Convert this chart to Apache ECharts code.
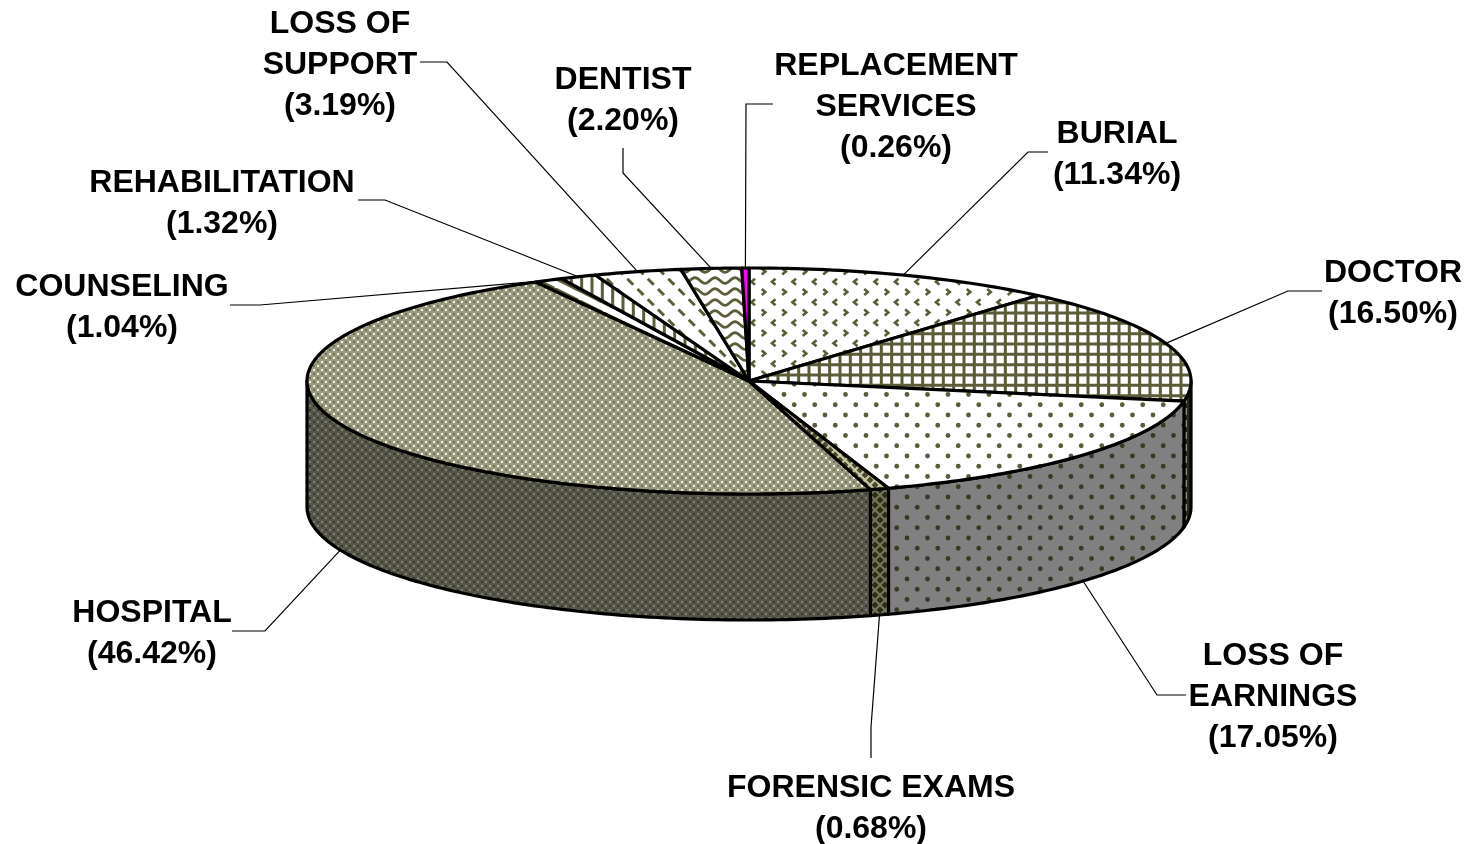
<!DOCTYPE html>
<html><head><meta charset="utf-8">
<style>html,body{margin:0;padding:0;background:#fff}#c{width:1470px;height:844px}</style>
<script src="https://cdn.jsdelivr.net/npm/echarts@6/dist/echarts.min.js"></script>
</head><body><div id="c"></div>
<script>
const categories = ['BURIAL','DOCTOR','LOSS OF\nEARNINGS','FORENSIC EXAMS','HOSPITAL','COUNSELING','REHABILITATION','LOSS OF\nSUPPORT','DENTIST','REPLACEMENT\nSERVICES'];
const shares = [11.34,16.50,17.05,0.68,46.42,1.04,1.32,3.19,2.20,0.26];
// label centre x, first-line y, and the leader's outer elbow + end (px)
const labelCx = [1117,1393,1273,871,152,122,222,340,623,896];
const labelY  = [134,273,656,788,613,287,183,24,80,66];
const leaderElbow = [[1028,152],[1288,291],[1157,695],[871,727],[265,631],[260,305],[385,200],[447,62],[623,173],[746,104]];
const leaderEnd   = [[1048,152],[1322,291],[1186,695],[871,758],[232,631],[230,305],[358,200],[420,62],[623,148],[773,104]];

const CX=749, CY=381, RX=442, RY=113, DEPTH=126;
const OL='#5c5c38';

function tile(w,h,bg,draw){const c=document.createElement('canvas');c.width=w;c.height=h;const g=c.getContext('2d');g.fillStyle=bg;g.fillRect(0,0,w,h);g.strokeStyle=OL;g.fillStyle=OL;draw(g);return {image:c,repeat:'repeat'};}
function lattice(g,fn){const p=20.5;for(let j=-1;j<5;j++)for(let i=-1;i<4;i++){fn(g,i*p+(j%2?p/2:0)+5,j*p/2+5,j%2);}}
const chev=tile(41,41,'#fff',g=>{g.lineWidth=2.6;lattice(g,(g,x,y,o)=>{const s=o?-1:1;g.beginPath();g.moveTo(x-1.8*s,y-3);g.lineTo(x+1.8*s,y);g.lineTo(x-1.8*s,y+3);g.stroke();});});
const grid=tile(31,31,'#fff',g=>{g.lineWidth=3;for(let k=0;k<3;k++){const p=k*31/3+3;g.beginPath();g.moveTo(p,0);g.lineTo(p,31);g.moveTo(0,p);g.lineTo(31,p);g.stroke();}});
const dots=(bg,col)=>tile(41,41,bg,g=>{g.fillStyle=col;lattice(g,(g,x,y)=>{g.beginPath();g.arc(x,y,2.4,0,7);g.fill();});});
const dotsTop=dots('#fff','#5c5c38'), dotsSide=dots('#808080','#3a3a24');
const hospTop=tile(8,8,'#9a9a80',g=>{g.fillStyle='#f2f2e6';g.fillRect(1,1,2,2);g.fillRect(5,5,2,2);g.fillStyle='#6f6f52';g.fillRect(5,1,2,2);g.fillRect(1,5,2,2);});
const hospSide=tile(8,8,'#55554a',g=>{g.fillStyle='#80806e';g.fillRect(1,1,2,2);g.fillRect(5,5,2,2);g.fillStyle='#38382c';g.fillRect(5,1,2,2);g.fillRect(1,5,2,2);});
const foren=(bg,col)=>tile(10,10,bg,g=>{g.fillStyle=col;[[0,0],[5,5],[10,0],[0,10],[10,10]].forEach(([x,y])=>{g.beginPath();g.moveTo(x-3.5,y);g.lineTo(x,y-3.5);g.lineTo(x+3.5,y);g.lineTo(x,y+3.5);g.closePath();g.fill();});});
const forenTop=foren('#c9c9a6','#4a4a28'), forenSide=foren('#77775f','#2e2e16');
const stripesV=tile(31,10,'#fff',g=>{g.lineWidth=3;for(let k=0;k<3;k++){const p=k*31/3+3;g.beginPath();g.moveTo(p,0);g.lineTo(p,10);g.stroke();}});
const diag=tile(24,12,'#fff',g=>{g.lineWidth=4.5;for(let k=-1;k<3;k++){g.beginPath();g.moveTo(k*24-2,-1);g.lineTo(k*24+26,13);g.stroke();g.beginPath();g.moveTo(k*24-2,-13);g.lineTo(k*24+26,1);g.stroke();}});
const dash=tile(41,41,'#fff',g=>{g.lineWidth=3;lattice(g,(g,x,y)=>{g.beginPath();g.moveTo(x-3,y-3);g.lineTo(x+3,y+3);g.stroke();});});
const wave=tile(20,22,'#fff',g=>{g.lineWidth=2.8;[5.5,16.5].forEach(y=>{g.beginPath();for(let x=-1;x<=21;x++){const yy=y+2.8*Math.sin(x/20*2*Math.PI);x<0?g.moveTo(x,yy):g.lineTo(x,yy);}g.stroke();});});
const doctorSide=tile(6,12,'#2a2a14',g=>{g.fillStyle='#eee';g.fillRect(3,0,1.5,7);});
const topFills=[chev,grid,dotsTop,forenTop,hospTop,diag,stripesV,dash,wave,'#ff00ff'];
const sideFills=[null,doctorSide,dotsSide,forenSide,hospSide,null,null,null,null,null];

const pt=(deg,dy=0)=>{const r=deg*Math.PI/180;return [CX+RX*Math.sin(r),CY-RY*Math.cos(r)+dy];};
const arc=(a,b,dy=0)=>{const n=Math.max(2,Math.ceil(Math.abs(b-a)));const o=[];for(let i=0;i<=n;i++)o.push(pt(a+(b-a)*i/n,dy));return o;};
const total=shares.reduce((s,v)=>s+v,0);

function renderItem(params,api){
  const i=params.dataIndex, v=api.value(0);
  let before=0;for(let k=0;k<i;k++)before+=shares[k];
  const a=before/total*360, b=(before+v)/total*360, mid=(a+b)/2;
  const kids=[];
  const sa=Math.max(a,90), sb=Math.min(b,270);
  if(sb>sa&&sideFills[i]){
    kids.push({type:'polygon',z2:1,shape:{points:arc(sa,sb).concat(arc(sb,sa,DEPTH))},style:{fill:sideFills[i],stroke:'#000',lineWidth:3.2,lineJoin:'round'}});
  }
  kids.push({type:'polygon',z2:i===4?2:3,shape:{points:[[CX,CY]].concat(arc(a,b))},style:{fill:topFills[i],stroke:'#000',lineWidth:3.2,lineJoin:'round'}});
  const front=mid>90&&mid<270&&i!==1;
  const start=pt(mid,front?DEPTH:0);
  kids.push({type:'polyline',z2:4,shape:{points:[start,leaderElbow[i],leaderEnd[i]]},style:{fill:null,stroke:'#000',lineWidth:1.2}});
  const lines=categories[i].split('\n').concat('('+v.toFixed(2)+'%)');
  lines.forEach((t,k)=>kids.push({type:'text',z2:5,style:{text:t,x:labelCx[i],y:labelY[i]+k*41,align:'center',verticalAlign:'middle',font:'bold 32px "Liberation Sans"',fill:'#000'}}));
  return {type:'group',children:kids};
}
const chart=echarts.init(document.getElementById('c'));
chart.setOption({animation:false,backgroundColor:'#fff',series:[{type:'custom',coordinateSystem:'none',renderItem,clip:false,silent:true,data:shares.map((v,i)=>({name:categories[i],value:[v]}))}]});
</script></body></html>
